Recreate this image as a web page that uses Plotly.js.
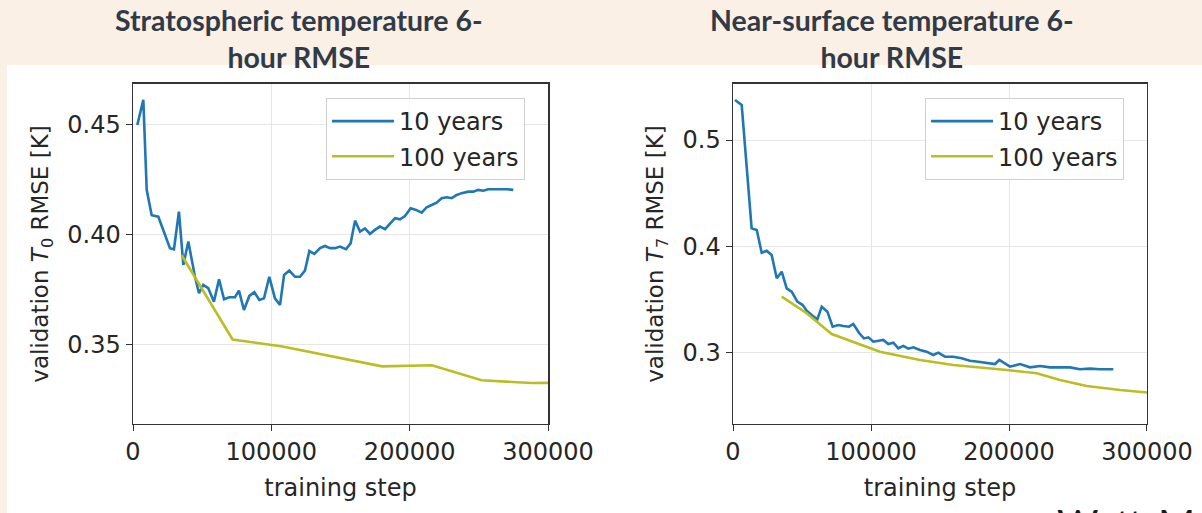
<!DOCTYPE html>
<html><head><meta charset="utf-8">
<script src="https://cdn.plot.ly/plotly-3.0.1.min.js"></script>
<style>
html,body{margin:0;padding:0;background:#faf0e6;width:1202px;height:513px;overflow:hidden;}
#white{position:absolute;left:7px;top:65px;width:1195px;height:448px;background:#ffffff;}
#chart{position:absolute;left:0;top:0;width:1202px;height:513px;}
</style></head>
<body>
<div id="white"></div>
<div id="chart"></div>
<script>
// Left panel: stratospheric temperature
const stratSteps10 = [3100,7450,9900,13500,18300,26700,29600,33200,36400,40000,44800,47700,50800,54400,58500,62200,65800,69600,73700,76600,80200,84100,87700,91300,94700,98500,102600,106300,109200,113000,117100,120700,124300,127500,131100,135200,138800,142400,146000,149600,154000,157300,160500,164100,167700,171300,174900,178500,182200,185800,189400,193000,196600,200700,204600,208700,212300,215900,219500,223100,226800,230400,234000,237600,242400,246000,249600,253200,256800,261700,266500,270100,274900];
const stratRmse10 = [0.450,0.4614,0.4205,0.409,0.4083,0.394,0.3935,0.4106,0.3864,0.397,0.381,0.3735,0.3773,0.3758,0.3697,0.3799,0.3708,0.3717,0.3717,0.3747,0.3659,0.3723,0.374,0.3705,0.3712,0.381,0.3712,0.3682,0.3818,0.3838,0.381,0.381,0.3838,0.3927,0.3914,0.394,0.395,0.394,0.394,0.3947,0.3935,0.3962,0.4065,0.4015,0.403,0.4005,0.4023,0.4038,0.4026,0.405,0.4076,0.4071,0.4086,0.4121,0.4114,0.4101,0.4126,0.4136,0.4147,0.4167,0.4171,0.4167,0.4182,0.419,0.4197,0.4197,0.4205,0.4201,0.4208,0.4208,0.4209,0.4208,0.4205];
const stratSteps100 = [35200,72000,108000,144000,180000,216000,252000,288000,324000];
const stratRmse100 = [0.3908,0.3525,0.3493,0.3448,0.3403,0.3408,0.3340,0.3327,0.3330];

// Right panel: near-surface temperature
const surfSteps10 = [1450,6300,13500,17200,20800,24400,28000,31700,35300,38900,42500,46600,50500,53400,57000,61100,64300,68400,72200,76300,79900,84000,87200,91500,94900,98100,101700,108900,112500,116200,119800,123400,127000,130700,135500,140300,145100,148800,153600,159600,165700,171700,177800,183800,189800,193000,197100,200700,208000,215200,222500,229700,237000,244200,251400,258700,265900,275600];
const surfRmse10 = [0.5376,0.5329,0.417,0.4155,0.3942,0.396,0.392,0.3701,0.3763,0.3607,0.3576,0.3482,0.345,0.3397,0.3357,0.3316,0.3435,0.3388,0.3247,0.3263,0.3253,0.3247,0.3272,0.3185,0.3137,0.3147,0.3106,0.3122,0.3084,0.3097,0.3044,0.3066,0.304,0.3053,0.3028,0.3012,0.2981,0.3003,0.2965,0.2965,0.295,0.2927,0.2918,0.2909,0.2896,0.2934,0.2896,0.2871,0.2896,0.2865,0.2878,0.2865,0.2865,0.2865,0.2847,0.2853,0.2847,0.2847];
const surfSteps100 = [35300,53400,71500,87200,106500,135500,159600,198300,220100,237000,256300,280400,299800,320000];
const surfRmse100 = [0.3529,0.3373,0.3178,0.3106,0.3012,0.2934,0.2887,0.284,0.2809,0.2746,0.269,0.2653,0.2627,0.2605];

const xTickVals = [0,100000,200000,300000];
const xTickText = ['0','100000','200000','300000'];
const stratYTickVals = [0.35,0.40,0.45];
const stratYTickText = ['0.35','0.40','0.45'];
const surfYTickVals = [0.3,0.4,0.5];
const surfYTickText = ['0.3','0.4','0.5'];
const seriesNames = ['10 years','100 years'];
const titles = ['Stratospheric temperature 6-<br>hour RMSE','Near-surface temperature 6-<br>hour RMSE'];

const BLUE = '#1f77b4', OLIVE = '#bcbd22';
const tickFont = {family:'DejaVu Sans', size:24, color:'#262626'};
const yTitleFont = {family:'DejaVu Sans', size:23, color:'#262626'};

const traces = [
  {x:stratSteps10, y:stratRmse10, name:seriesNames[0], legendgroup:'a', mode:'lines', line:{color:BLUE,width:2.6}, xaxis:'x', yaxis:'y', legend:'legend'},
  {x:stratSteps100, y:stratRmse100, name:seriesNames[1], legendgroup:'b', mode:'lines', line:{color:OLIVE,width:2.6}, xaxis:'x', yaxis:'y', legend:'legend'},
  {x:surfSteps10, y:surfRmse10, name:seriesNames[0], legendgroup:'c', mode:'lines', line:{color:BLUE,width:2.6}, xaxis:'x2', yaxis:'y2', legend:'legend2'},
  {x:surfSteps100, y:surfRmse100, name:seriesNames[1], legendgroup:'d', mode:'lines', line:{color:OLIVE,width:2.6}, xaxis:'x2', yaxis:'y2', legend:'legend2'}
];

function xax(domain, anchor){
  return {domain:domain, range:[0,300000], tickvals:xTickVals, ticktext:xTickText, anchor:anchor,
    showline:true, mirror:true, linecolor:'#333', linewidth:1.5, ticks:'outside', ticklen:6, tickcolor:'#333',
    showgrid:true, gridcolor:'#e6e6e6', gridwidth:1, zeroline:false, tickfont:tickFont,
    title:{text:'training step', font:tickFont, standoff:14}};
}
function yax(range, tv, tt, title, anchor){
  return {domain:[0.17349,0.83626], range:range, tickvals:tv, ticktext:tt, anchor:anchor,
    showline:true, mirror:true, linecolor:'#333', linewidth:1.5, ticks:'outside', ticklen:6, tickcolor:'#333',
    showgrid:true, gridcolor:'#e6e6e6', gridwidth:1, zeroline:false, tickfont:tickFont,
    title:{text:title, font:yTitleFont, standoff:12}};
}

const legendBase = {xanchor:'left', yanchor:'top', bgcolor:'rgba(255,255,255,0.85)', bordercolor:'#d0d0d0', borderwidth:1,
  font:{family:'DejaVu Sans', size:24, color:'#262626'}, tracegroupgap:1, itemwidth:62};

const layout = {
  width:1202, height:513, margin:{l:0,r:0,t:0,b:0},
  paper_bgcolor:'rgba(0,0,0,0)', plot_bgcolor:'#ffffff',
  showlegend:true,
  xaxis: xax([0.11065,0.45591],'y'),
  yaxis: yax([0.3141,0.4686], stratYTickVals, stratYTickText, 'validation <i>T</i><sub>0</sub> RMSE [K]', 'x'),
  xaxis2: xax([0.60982,0.95424],'y2'),
  yaxis2: yax([0.2333,0.5526], surfYTickVals, surfYTickText, 'validation <i>T</i><sub>7</sub> RMSE [K]', 'x2'),
  legend: Object.assign({}, legendBase, {x:0.2712, y:0.809}),
  legend2: Object.assign({}, legendBase, {x:0.7696, y:0.809}),
  annotations:[
    {text:titles[0], xref:'paper', yref:'paper', x:0.2488, y:1, xanchor:'center', yanchor:'top', yshift:-1, showarrow:false,
     font:{family:'Lato', size:28.5, color:'#313b48', weight:'bold'}},
    {text:titles[1], xref:'paper', yref:'paper', x:0.7421, y:1, xanchor:'center', yanchor:'top', yshift:-1, showarrow:false,
     font:{family:'Lato', size:28.5, color:'#313b48', weight:'bold'}},
    {text:'Watt-Meyer et al.', xref:'paper', yref:'paper', x:0.8777, y:0.0253, xanchor:'left', yanchor:'top', yshift:2, showarrow:false,
     font:{family:'Lato', size:40, color:'#1a1a1a'}}
  ]
};
Plotly.newPlot('chart', traces, layout, {displayModeBar:false, staticPlot:true});
</script>
</body></html>
